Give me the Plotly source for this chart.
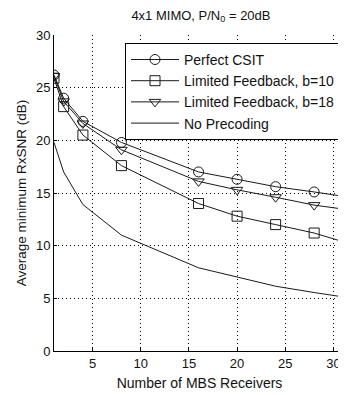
import plotly.graph_objects as go

x_vals = [1, 2, 4, 8, 16, 20, 24, 28, 32]
perfect_csit = [26.2, 24.0, 21.8, 19.8, 17.0, 16.3, 15.6, 15.1, 14.55]
lf_b10 = [25.9, 23.2, 20.5, 17.6, 14.0, 12.8, 12.0, 11.2, 10.1]
lf_b18 = [26.1, 23.7, 21.6, 19.1, 16.1, 15.3, 14.6, 13.85, 13.35]
no_precoding = [19.8, 17.0, 13.9, 11.0, 7.9, 7.05, 6.15, 5.55, 5.0]

series_names = ["Perfect CSIT", "Limited Feedback, b=10", "Limited Feedback, b=18", "No Precoding"]
x_ticks = [5, 10, 15, 20, 25, 30]
y_ticks = [0, 5, 10, 15, 20, 25, 30]

FONT = "Liberation Sans, Arial, sans-serif"
W, H = 338, 387  # page body has an 8px margin

fig = go.Figure()
specs = [
    (perfect_csit, "circle-open", "lines+markers"),
    (lf_b10, "square-open", "lines+markers"),
    (lf_b18, "triangle-down-open", "lines+markers"),
    (no_precoding, None, "lines"),
]
for name, (ys, sym, mode) in zip(series_names, specs):
    kw = dict(x=x_vals, y=ys, name=name, mode=mode,
              line=dict(color="#1a1a1a", width=1))
    if sym:
        kw["marker"] = dict(symbol=sym, size=10, color="#1a1a1a",
                            line=dict(width=1, color="#1a1a1a"))
    fig.add_trace(go.Scatter(**kw))

fig.update_layout(
    width=W, height=H,
    margin=dict(l=46, r=1, t=27, b=44, autoexpand=False),
    paper_bgcolor="white", plot_bgcolor="white",
    font=dict(family=FONT, size=13, color="#111"),
    title=dict(text="4x1 MIMO, P/N<sub>0</sub> = 20dB", x=0.505, xref="paper",
               xanchor="center", y=1 - 7 / H, yref="container", yanchor="middle",
               font=dict(size=13)),
    legend=dict(x=(125 - 54) / 291, y=0.975, xanchor="left", yanchor="top",
                bgcolor="white", bordercolor="black", borderwidth=1,
                font=dict(size=14), tracegroupgap=0, itemwidth=48),
    showlegend=True,
)
fig.update_xaxes(
    range=[1, 31.2], tickvals=x_ticks, showgrid=True, gridcolor="black",
    griddash="1px,3px", gridwidth=1, zeroline=False, showline=True,
    linecolor="black", linewidth=1, ticks="inside", ticklen=3, tickcolor="black",
    automargin=False, tickfont=dict(size=13),
    title=dict(text="Number of MBS Receivers", standoff=8, font=dict(size=14)),
)
fig.update_yaxes(
    range=[0, 30], tickvals=y_ticks, showgrid=True, gridcolor="black",
    griddash="1px,3px", gridwidth=1, zeroline=False, showline=True,
    linecolor="black", linewidth=1, ticks="inside", ticklen=3, tickcolor="black",
    automargin=False, tickfont=dict(size=13),
    title=dict(text="Average minimum RxSNR (dB)", standoff=6, font=dict(size=13.5)),
)
fig.write_html("out.html")
